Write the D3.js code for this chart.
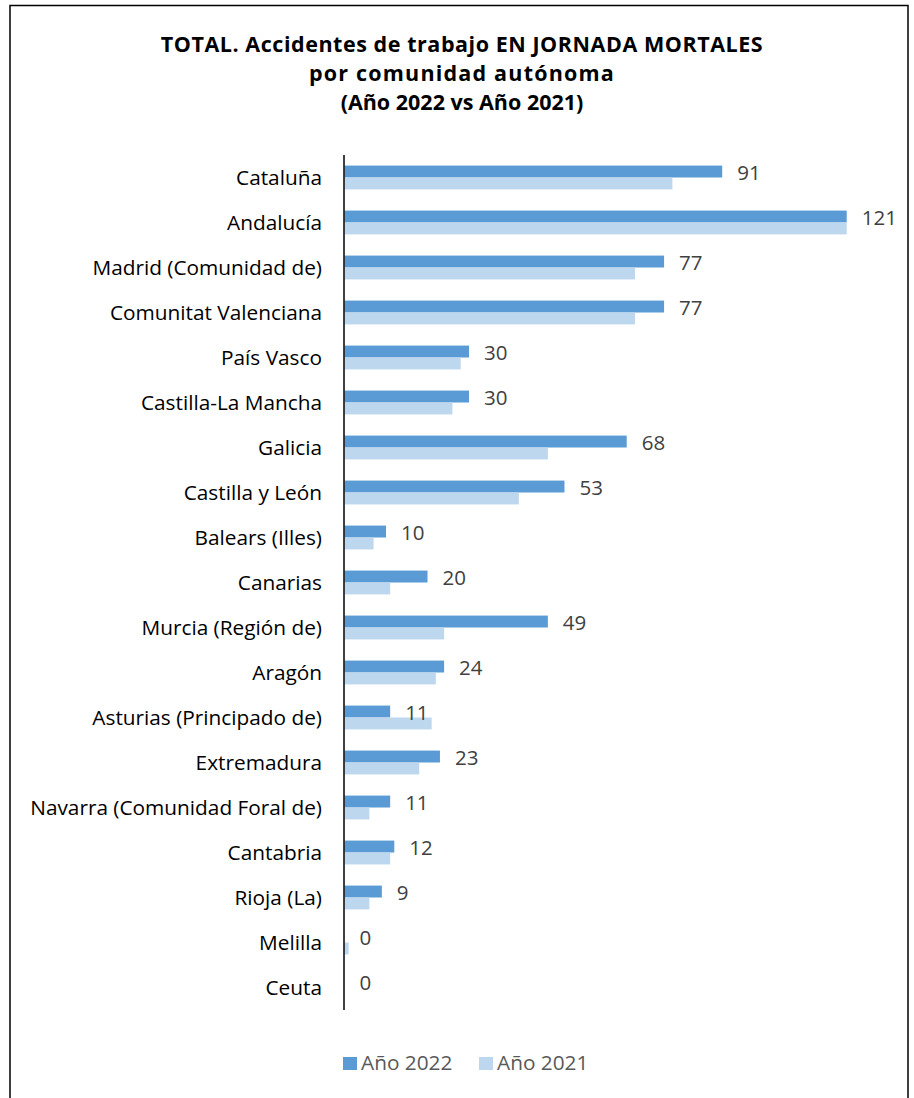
<!DOCTYPE html>
<html>
<head>
<meta charset="utf-8">
<script src="https://cdn.jsdelivr.net/npm/d3@7"></script>
<style>
  body { margin: 0; background: #fff; }
  svg text { font-family: "Open Sans", sans-serif; }
</style>
</head>
<body>
<svg id="chart"></svg>
<script>
// data
var regions = ["Cataluña", "Andalucía", "Madrid (Comunidad de)", "Comunitat Valenciana",
  "País Vasco", "Castilla-La Mancha", "Galicia", "Castilla y León", "Balears (Illes)",
  "Canarias", "Murcia (Región de)", "Aragón", "Asturias (Principado de)", "Extremadura",
  "Navarra (Comunidad Foral de)", "Cantabria", "Rioja (La)", "Melilla", "Ceuta"];
var values2022 = [91, 121, 77, 77, 30, 30, 68, 53, 10, 20, 49, 24, 11, 23, 11, 12, 9, 0, 0];
var values2021 = [79, 121, 70, 70, 28, 26, 49, 42, 7, 11, 24, 22, 21, 18, 6, 11, 6, 1, 0];
var seriesNames = ["Año 2022", "Año 2021"];
var seriesColors = ["#5B9BD5", "#BDD7EE"];
var titleLines = ["TOTAL. Accidentes de trabajo EN JORNADA MORTALES", "por comunidad autónoma", "(Año 2022 vs Año 2021)"];

var width = 914, height = 1098;
var svg = d3.select("#chart").attr("width", width).attr("height", height);

// outer frame (bottom edge falls outside the picture)
svg.append("rect")
  .attr("x", 10).attr("y", 5.5)
  .attr("width", 898).attr("height", 1110)
  .attr("fill", "none").attr("stroke", "#000").attr("stroke-width", 1.5);

// title
var titleY = [52, 81, 110];
var titleSpacing = [0.55, 1.2, 0];
svg.selectAll("text.title")
  .data(titleLines)
  .enter()
  .append("text")
  .attr("class", "title")
  .attr("x", 462)
  .attr("y", function(d, i) { return titleY[i]; })
  .attr("text-anchor", "middle")
  .style("font-weight", "bold")
  .style("font-size", "21.5px")
  .style("letter-spacing", function(d, i) { return titleSpacing[i] + "px"; })
  .attr("fill", "#000")
  .text(function(d) { return d; });

var x = d3.scaleLinear().domain([0, 121]).range([344.5, 846.7]);

var y = d3.scaleBand().domain(regions).range([155, 1010]).paddingInner(0.47).paddingOuter(0.235);
var ySub = d3.scaleBand().domain([0, 1]).range([0, y.bandwidth()]);

var rows = regions.map(function(r, i) { return {name: r, vals: [values2022[i], values2021[i]]}; });

var groups = svg.selectAll("g.row")
  .data(rows)
  .enter()
  .append("g")
  .attr("class", "row")
  .attr("transform", function(d) { return "translate(0," + y(d.name) + ")"; });

groups.selectAll("rect")
  .data(function(d) { return d.vals; })
  .enter()
  .append("rect")
  .attr("x", x(0))
  .attr("y", function(d, i) { return ySub(i); })
  .attr("width", function(d) { return x(d) - x(0); })
  .attr("height", ySub.bandwidth())
  .attr("fill", function(d, i) { return seriesColors[i]; });

// data labels, 2022 only
groups.append("text")
  .attr("x", function(d) { return x(d.vals[0]) + 15; })
  .attr("y", ySub.bandwidth() * 0.5)
  .attr("dy", "0.4em")
  .style("font-size", "20.5px")
  .attr("fill", "#404040")
  .text(function(d) { return d.vals[0]; });

// category labels
groups.append("text")
  .attr("x", 322)
  .attr("y", y.bandwidth() / 2)
  .attr("dy", "0.35em")
  .attr("text-anchor", "end")
  .style("font-size", "20.8px")
  .attr("fill", "#000")
  .text(function(d) { return d.name; });

// vertical axis line
svg.append("line")
  .attr("x1", 344).attr("x2", 344)
  .attr("y1", 155).attr("y2", 1010)
  .attr("stroke", "#000").attr("stroke-width", 1.5);

// legend
var legend = svg.selectAll("g.legend")
  .data(seriesNames)
  .enter()
  .append("g")
  .attr("class", "legend")
  .attr("transform", function(d, i) { return "translate(" + (343 + i * 136) + ",1057)"; });
legend.append("rect").attr("width", 14).attr("height", 13)
  .attr("fill", function(d, i) { return seriesColors[i]; });
legend.append("text").attr("x", 18).attr("y", 13)
  .style("font-size", "20.8px").attr("fill", "#595959")
  .text(function(d) { return d; });
</script>
</body>
</html>
